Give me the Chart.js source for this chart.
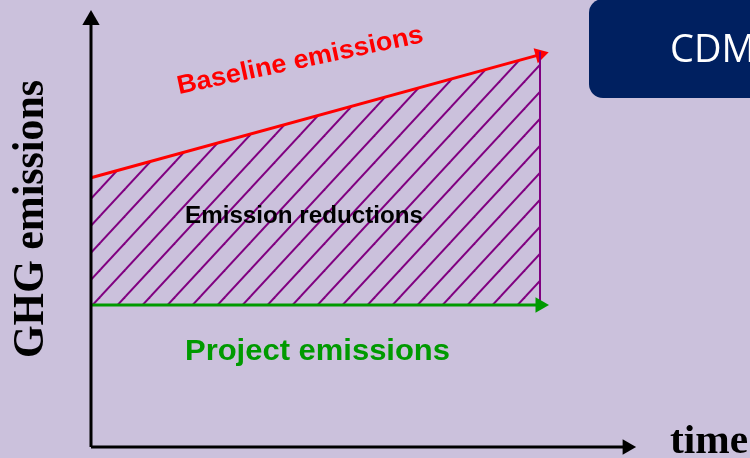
<!DOCTYPE html>
<html>
<head>
<meta charset="utf-8">
<script src="https://cdn.jsdelivr.net/npm/chart.js@4"></script>
<style>
  html, body { margin: 0; padding: 0; background: #cbc1dc; overflow: hidden; }
  canvas { display: block; }
</style>
</head>
<body>
<canvas id="chart" width="750" height="458"></canvas>
<script>
// Baseline vs project emissions over a crediting period
const times = [0, 10];
const baseline = [6.16, 8.98];
const project = [3.25, 3.25];
const axisX = [0, 11.94];
const axisY = [0, 9.77];

const X_MAX = 12.16;
const Y_MAX = 10;

const RED = '#ff0000';
const GREEN = '#009a00';
const PURPLE = '#800080';

// diagonal hatch used for the reduction area
function makeHatch(w, h) {
  const c = document.createElement('canvas');
  c.width = w;
  c.height = h;
  const g = c.getContext('2d');
  g.strokeStyle = PURPLE;
  g.lineWidth = 2;
  [-w, 0, w].forEach(x0 => {
    g.beginPath();
    g.moveTo(x0 - w, 2 * h);
    g.lineTo(x0 + 2 * w, -h);
    g.stroke();
  });
  return g.createPattern(c, 'repeat');
}

const pts = (xs, ys) => xs.map((x, i) => ({ x, y: ys[i] }));

// arrow line: plain start, triangle head at the end
function arrow(data, color, width, head, rotation, order) {
  return {
    data,
    showLine: true,
    borderColor: color,
    backgroundColor: color,
    borderWidth: width,
    pointStyle: 'triangle',
    pointRadius: [0, head],
    pointRotation: [0, rotation],
    pointBorderWidth: 0,
    pointBackgroundColor: color,
    clip: false,
    order
  };
}

const labels = [
  { text: 'Baseline emissions', x: 179, y: 94, angle: -12, font: 'bold 26px "Liberation Sans", Arial', color: RED, width: 251 },
  { text: 'Emission reductions', x: 185, y: 223, font: 'bold 23px "Liberation Sans", Arial', color: '#000', width: 238 },
  { text: 'Project emissions', x: 185, y: 360, font: 'bold 30px "Liberation Sans", Arial', color: GREEN, width: 265 },
  { text: 'GHG emissions', x: 43, y: 358, angle: -90, font: 'bold 44px "Liberation Serif", serif', color: '#000', width: 278 },
  { text: 'time', x: 670, y: 453, font: 'bold 40px "Liberation Serif", serif', color: '#000', width: 78 }
];

function drawLabel(ctx, l) {
  ctx.save();
  ctx.translate(l.x, l.y);
  ctx.rotate((l.angle || 0) * Math.PI / 180);
  ctx.font = l.font;
  ctx.fillStyle = l.color;
  ctx.textAlign = 'left';
  ctx.textBaseline = 'alphabetic';
  if (l.width) {
    const w = ctx.measureText(l.text).width;
    ctx.scale(l.width / w, 1);
  }
  ctx.fillText(l.text, 0, 0);
  ctx.restore();
}

const overlay = {
  id: 'overlay',
  afterDatasetsDraw(chart) {
    const ctx = chart.ctx;
    labels.forEach(l => drawLabel(ctx, l));

    // title tab in the corner
    ctx.save();
    ctx.fillStyle = '#002060';
    ctx.beginPath();
    ctx.roundRect(589, -1, 200, 99, 14);
    ctx.fill();
    ctx.fillStyle = '#ffffff';
    ctx.font = '38px "Open Sans", "Noto Sans", sans-serif';
    ctx.textBaseline = 'alphabetic';
    ctx.fillText('CDM', 670, 62);
    ctx.restore();
  }
};

const ctx = document.getElementById('chart').getContext('2d');
const hatch = makeHatch(25, 27);

new Chart(ctx, {
  type: 'scatter',
  data: {
    datasets: [
      arrow(pts([0, 0], axisY), '#000', 3, 10, 0, 0),
      arrow(pts(axisX, [0, 0]), '#000', 3, 9, 90, 0),
      arrow(pts(times, project), GREEN, 3, 9, 90, 1),
      {
        data: [{ x: times[1], y: project[1] }, { x: times[1], y: baseline[1] + 0.07 }],
        showLine: true,
        borderColor: PURPLE,
        borderWidth: 2,
        pointRadius: 0,
        clip: false,
        order: 2
      },
      Object.assign(arrow(pts(times, baseline), RED, 3, 9, 74.5, 3), {
        fill: { target: 2 },
        backgroundColor: hatch
      })
    ]
  },
  options: {
    responsive: false,
    animation: false,
    layout: { padding: { left: 91, right: 113, top: 7, bottom: 11 } },
    scales: {
      x: { type: 'linear', min: 0, max: X_MAX, display: false },
      y: { type: 'linear', min: 0, max: Y_MAX, display: false }
    },
    plugins: {
      legend: { display: false },
      tooltip: { enabled: false }
    }
  },
  plugins: [overlay]
});
</script>
</body>
</html>
